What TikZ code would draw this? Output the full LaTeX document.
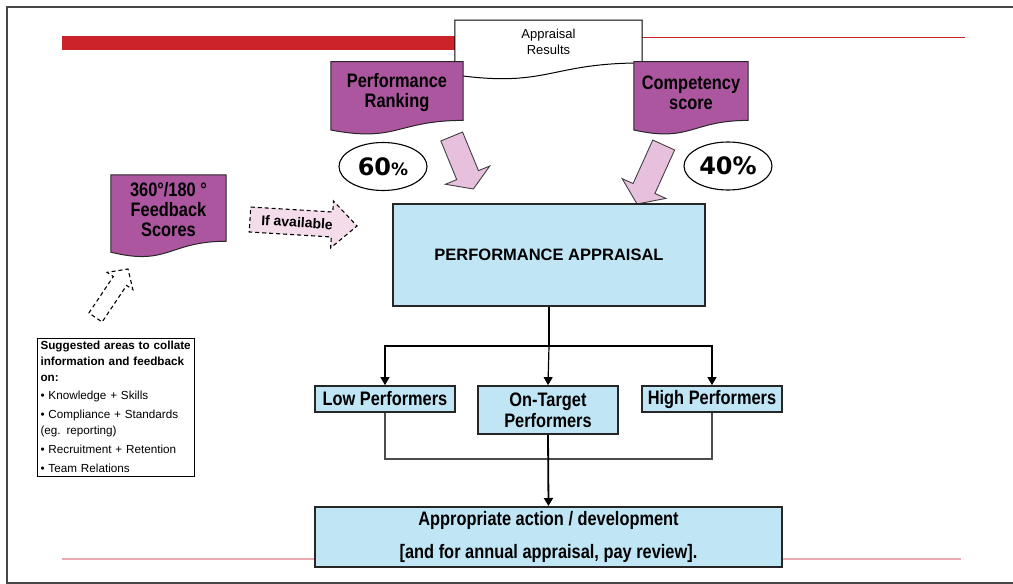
\documentclass[tikz,border=0pt]{standalone}
\usepackage{fontspec}
\setmainfont{Liberation Sans}
\newfontfamily\narrowfont{Liberation Sans}[FakeStretch=0.84]
\newfontfamily\heavyfont{DejaVu Sans}
\usetikzlibrary{shapes.geometric,arrows.meta,calc,backgrounds}

\definecolor{docpurple}{RGB}{172,86,160}
\definecolor{arrowpink}{RGB}{230,192,220}
\definecolor{softpink}{RGB}{244,220,234}
\definecolor{boxblue}{RGB}{192,230,246}
\definecolor{barred}{RGB}{204,34,41}
\definecolor{rulepink}{RGB}{232,170,175}
\definecolor{framegray}{RGB}{70,70,70}

% document outline: flat top, wavy bottom hanging below the node's south edge
\newcommand\docoutline[4][]{%
  \path[#1] let \p1=(#2.north west), \p2=(#2.south east) in
    (\p1) -- (\x2,\y1) -- (\p2)
    .. controls ({(\x1+\x2)/2},\y2) and ({(\x1+\x2)/2},{\y2-#4}) ..
    (\x1,{\y2-#3}) -- cycle;}

% block arrow from tail #2 to tip #3: shaft half width #4, head half width #5, head length #6
\newcommand\blockarrow[6][]{%
  \coordinate (ba-h) at ($(#3)!#6!(#2)$);
  \path[#1] ($(#2)!#4!90:(#3)$) -- ($(ba-h)!#4!90:(#3)$) -- ($(ba-h)!#5!90:(#3)$)
    -- (#3) -- ($(ba-h)!#5!-90:(#3)$) -- ($(ba-h)!#4!-90:(#3)$)
    -- ($(#2)!#4!-90:(#3)$) -- cycle;}

\begin{document}
\begin{tikzpicture}[x=1pt,y=-1pt,
  doctext/.style={rectangle, inner sep=0pt, align=center,
    font=\narrowfont\fontsize{19.5}{20}\selectfont\bfseries},
  docfill/.style={fill=docpurple, draw=black!85, line width=1pt},
  bluebox/.style={rectangle, draw=black!85, fill=boxblue, line width=1.7pt,
    inner sep=0pt, align=center, font=\narrowfont\fontsize{19.5}{21.4}\selectfont\bfseries},
  pct/.style={ellipse, draw=black, fill=white, line width=1.1pt,
    minimum width=88, minimum height=48, inner sep=0pt},
  pinkarrow/.style={fill=arrowpink, draw=black!75, line width=0.9pt},
  softarrow/.style={fill=softpink, draw=black, line width=1.1pt, dash pattern=on 4pt off 3pt},
  openarrow/.style={fill=white, draw=black, line width=1.1pt, dash pattern=on 4pt off 3pt},
  conn/.style={draw=black, line width=1.2pt},
  trunk/.style={draw=black, line width=1.8pt},
  joinline/.style={draw=black!70, line width=1.2pt},
  tip/.style={-{Triangle[length=8pt,width=9pt]}}
]
\useasboundingbox (0,0) rectangle (1013,584);

% arrow end points
\coordinate (prT) at (451.7,136.5); \coordinate (prP) at (473.3,189);
\coordinate (csT) at (663.7,145);   \coordinate (csP) at (637,204);
\coordinate (ifT) at (250,219.5);   \coordinate (ifP) at (357,226);
\coordinate (sgT) at (95.5,317.5);  \coordinate (sgP) at (128,269);

\blockarrow[pinkarrow]{prT}{prP}{11.75pt}{24pt}{15pt}
\blockarrow[pinkarrow]{csT}{csP}{12pt}{24pt}{17pt}
\blockarrow[softarrow]{ifT}{ifP}{12.5pt}{23.5pt}{25pt}
\blockarrow[openarrow]{sgT}{sgP}{8pt}{15.5pt}{14.4pt}
\path (ifT) -- (ifP) node[pos=0.44, sloped, font=\fontsize{14}{14}\selectfont\bfseries] (ifl) {If available};

% documents
\node[rectangle, inner sep=0pt, minimum width=187, minimum height=42.5, align=center,
  font=\fontsize{13}{16}\selectfont] (ar) at (548.5,41.5) {Appraisal\\Results};
\node[doctext, minimum width=132, minimum height=58.4, text depth=0pt] (pr) at (397,91) {};
\node[doctext] (prl) at (397,92.5) {Performance\\Ranking};
\node[doctext, minimum width=114, minimum height=58.4] (cs) at (691,91) {};
\node[doctext] (csl) at (691,92.5) {Competency\\score};
\node[doctext, minimum width=115, minimum height=66.1] (fb) at (168.5,208) {};
\node[doctext] (fbl) at (168.5,210) {360°/180 °\\Feedback\\Scores};

% weightings
\node[pct] (p60) at (383,166.5) {\heavyfont\bfseries\fontsize{24}{24}\selectfont 60\fontsize{17}{17}\selectfont\%};
\node[pct] (p40) at (728,166) {\heavyfont\bfseries\fontsize{24}{24}\selectfont 40\%};

% appraisal flow
\node[bluebox, line width=2.4pt, minimum width=312, minimum height=102,
  font=\fontsize{16.5}{20}\selectfont\bfseries] (pa) at (549,255) {PERFORMANCE APPRAISAL};
\node[bluebox, minimum width=140, minimum height=26] (low) at (385,399) {Low Performers};
\node[bluebox, minimum width=140, minimum height=48] (on) at (548,410) {On-Target\\Performers};
\node[bluebox, minimum width=140, minimum height=26] (high) at (712,399) {High Performers};
\node[bluebox, line width=2pt, minimum width=467, minimum height=60,
  font=\narrowfont\fontsize{19.5}{33.3}\selectfont\bfseries] (app) at (548.5,537)
  {Appropriate action / development\\{}[and for annual appraisal, pay review].};

\coordinate (split) at (549,346);
\coordinate (merge) at (548,459);
\draw[trunk] (pa.south) -- (split);
\draw[conn,tip] (split) -| (low.north);
\draw[conn,tip] (split) -| (high.north);
\draw[conn,tip] (split) -- (on.north);
\draw[joinline] (low.south) -- (low.south |- merge) -- (high.south |- merge) -- (high.south);
\draw[trunk,tip] (on.south) -- (app.north);

% notes box
\node[draw=black, line width=1pt, text width=151, inner xsep=3, inner ysep=3, align=left,
  anchor=north west, font=\fontsize{11.7}{16}\selectfont] (sug) at (37,338)
  {\textbf{Suggested areas to collate}\\\textbf{information and feedback}\\\textbf{on:}\\[1.5pt]
   • Knowledge + Skills\\[3pt]
   • Compliance + Standards\\(eg. reporting)\\[3.5pt]
   • Recruitment + Retention\\[3pt]
   • Team Relations};

\begin{scope}[on background layer]
  % page frame and rules
  \draw[framegray, line width=2pt] (1013,7) -- (7,7) -- (7,583) -- (1013,583);
  \draw[barred, line width=14pt] (62,43) -- (ar.west |- 0,43);
  \draw[barred, line width=1.3pt] (ar.east |- 0,37.3) -- (965,37.3);
  \draw[rulepink, line width=1.2pt] (62,559) -- (961,559);
  % document shapes
  \docoutline[fill=white, draw=black, line width=1pt]{ar}{12pt}{25pt}
  \docoutline[docfill]{pr}{9.6pt}{22.3pt}
  \docoutline[docfill]{cs}{9.6pt}{22.3pt}
  \docoutline[docfill]{fb}{10.9pt}{25.2pt}
\end{scope}
\end{tikzpicture}
\end{document}
